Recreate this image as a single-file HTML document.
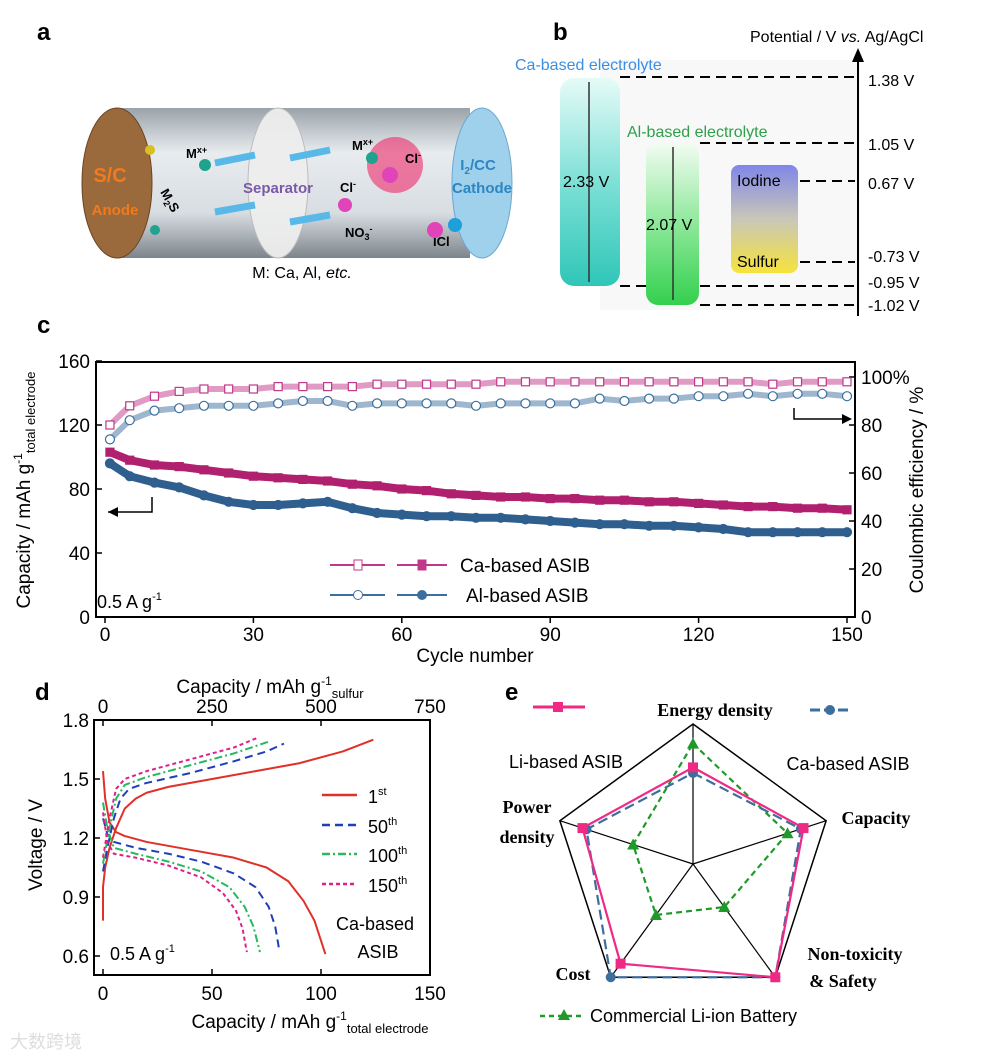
<!DOCTYPE html>
<html><head><meta charset="utf-8"><style>
html,body{margin:0;padding:0;background:#fff;}
svg{display:block;font-family:"Liberation Sans","Noto Sans CJK SC",sans-serif;}
.serif{font-family:"Liberation Serif",serif;font-weight:bold;}
</style></head><body>
<svg id="fig" width="993" height="1057" viewBox="0 0 993 1057" xmlns="http://www.w3.org/2000/svg">
<defs>
<linearGradient id="tube" x1="0" y1="0" x2="0" y2="1"><stop offset="0" stop-color="#9aa3aa"/><stop offset="0.3" stop-color="#e8ecef"/><stop offset="0.7" stop-color="#d8dde2"/><stop offset="1" stop-color="#7d858c"/></linearGradient>
<linearGradient id="caG" x1="0" y1="0" x2="0" y2="1"><stop offset="0" stop-color="#e6fbf8"/><stop offset="0.5" stop-color="#7ee0d6"/><stop offset="1" stop-color="#2fc6b8"/></linearGradient>
<linearGradient id="alG" x1="0" y1="0" x2="0" y2="1"><stop offset="0" stop-color="#f2fcf2"/><stop offset="0.5" stop-color="#8de89a"/><stop offset="1" stop-color="#34d04e"/></linearGradient>
<linearGradient id="isG" x1="0" y1="0" x2="0" y2="1"><stop offset="0" stop-color="#7f86e8"/><stop offset="0.5" stop-color="#c9c7b8"/><stop offset="1" stop-color="#f6e23c"/></linearGradient>
</defs>

<!-- Panel labels -->
<text x="37" y="40" font-size="24" font-weight="bold">a</text>
<text x="553" y="40" font-size="24" font-weight="bold">b</text>
<text x="37" y="333" font-size="24" font-weight="bold">c</text>
<text x="35" y="700" font-size="24" font-weight="bold">d</text>
<text x="505" y="700" font-size="24" font-weight="bold">e</text>

<!-- Panel a schematic -->
<g>
<path d="M115 108 L470 108 L470 258 L115 258 Z" fill="url(#tube)"/>
<ellipse cx="482" cy="183" rx="30" ry="75" fill="#9fd0ec" stroke="#6aa9cf"/>
<ellipse cx="278" cy="183" rx="30" ry="75" fill="#eeeeee" stroke="#bbb" opacity="0.95"/>
<ellipse cx="117" cy="183" rx="35" ry="75" fill="#9a6a3c" stroke="#6b4422"/>
<circle cx="395" cy="165" r="28" fill="#ee2a6a" opacity="0.6"/>
<text x="110" y="182" font-size="20" font-weight="bold" fill="#f07a1e" text-anchor="middle">S/C</text>
<text x="115" y="215" font-size="15" font-weight="bold" fill="#f07a1e" text-anchor="middle">Anode</text>
<text x="278" y="193" font-size="15" font-weight="bold" fill="#7a5aa8" text-anchor="middle">Separator</text>
<text x="478" y="170" font-size="15" font-weight="bold" fill="#2c86c4" text-anchor="middle">I<tspan font-size="10" dy="4">2</tspan><tspan dy="-4">/CC</tspan></text>
<text x="482" y="193" font-size="15" font-weight="bold" fill="#2c86c4" text-anchor="middle">Cathode</text>
<text x="186" y="158" font-size="13" font-weight="bold">M<tspan font-size="9" dy="-5">x+</tspan></text>
<text x="352" y="150" font-size="13" font-weight="bold">M<tspan font-size="9" dy="-5">x+</tspan></text>
<text x="160" y="192" font-size="13" font-weight="bold" transform="rotate(60 160 192)">M<tspan font-size="9" dy="3">2</tspan><tspan dy="-3">S</tspan></text>
<text x="340" y="192" font-size="13" font-weight="bold">Cl<tspan font-size="9" dy="-5">-</tspan></text>
<text x="405" y="163" font-size="13" font-weight="bold">Cl<tspan font-size="9" dy="-5">-</tspan></text>
<text x="345" y="237" font-size="13" font-weight="bold">NO<tspan font-size="9" dy="3">3</tspan><tspan font-size="9" dy="-8">-</tspan></text>
<text x="433" y="246" font-size="13" font-weight="bold">ICl</text>
<path d="M215 163 L255 155 M290 158 L330 150 M215 212 L255 205 M290 222 L330 215" stroke="#58b8e8" stroke-width="7"/>
<circle cx="205" cy="165" r="6" fill="#1fa38e"/><circle cx="372" cy="158" r="6" fill="#1fa38e"/>
<circle cx="390" cy="175" r="8" fill="#e044b8"/><circle cx="345" cy="205" r="7" fill="#e044b8"/>
<circle cx="435" cy="230" r="8" fill="#e044b8"/><circle cx="455" cy="225" r="7" fill="#1ca0dc"/>
<circle cx="150" cy="150" r="5" fill="#d8c020"/><circle cx="155" cy="230" r="5" fill="#1fa38e"/>
<text x="302" y="278" font-size="16" text-anchor="middle">M: Ca, Al, <tspan font-style="italic">etc.</tspan></text>
</g>

<!-- Panel b -->
<g>
<rect x="600" y="60" width="260" height="250" fill="#f2f2f2" opacity="0.5"/>
<line x1="858" y1="316" x2="858" y2="55" stroke="#000" stroke-width="2"/>
<path d="M852 62 L858 48 L864 62 Z" fill="#000"/>
<text x="750" y="42" font-size="16">Potential / V <tspan font-style="italic">vs.</tspan> Ag/AgCl</text>
<g stroke="#000" stroke-width="2" stroke-dasharray="10,6">
<line x1="620" y1="77" x2="855" y2="77"/><line x1="700" y1="143" x2="855" y2="143"/>
<line x1="800" y1="181" x2="855" y2="181"/><line x1="800" y1="262" x2="855" y2="262"/>
<line x1="620" y1="286" x2="855" y2="286"/><line x1="700" y1="305" x2="855" y2="305"/>
</g>
<g font-size="16">
<text x="868" y="86">1.38 V</text><text x="868" y="150">1.05 V</text><text x="868" y="189">0.67 V</text>
<text x="868" y="262">-0.73 V</text><text x="868" y="288">-0.95 V</text><text x="868" y="311">-1.02 V</text>
</g>
<rect x="560" y="78" width="60" height="208" rx="14" fill="url(#caG)"/>
<rect x="646" y="143" width="53" height="162" rx="12" fill="url(#alG)"/>
<rect x="731" y="165" width="67" height="108" rx="8" fill="url(#isG)"/>
<line x1="589" y1="82" x2="589" y2="282" stroke="#333" stroke-width="1.5"/>
<line x1="673" y1="147" x2="673" y2="300" stroke="#333" stroke-width="1.5"/>
<text x="515" y="70" font-size="16" fill="#3c8ee0">Ca-based electrolyte</text>
<text x="627" y="137" font-size="16" fill="#2ea04a">Al-based electrolyte</text>
<text x="563" y="187" font-size="16">2.33 V</text>
<text x="646" y="230" font-size="16">2.07 V</text>
<text x="737" y="186" font-size="16">Iodine</text>
<text x="737" y="267" font-size="16">Sulfur</text>
</g>

<g id="chartC"></g>
<g id="chartD"></g>
<g id="chartE"></g>
<text x="10" y="1048" font-size="18" fill="#ddd">大数跨境</text>
</svg>
<script>
// ---------- Panel c data ----------
const cCycles = [1,5,10,15,20,25,30,35,40,45,50,55,60,65,70,75,80,85,90,95,100,105,110,115,120,125,130,135,140,145,150];
const caCapacity = [103,98,95,94,92,90,88,87,86,85,83,82,80,79,77,76,75,75,74,74,73,73,72,72,71,70,69,69,68,68,67];
const alCapacity = [96,88,84,81,76,72,70,70,71,72,68,65,64,63,63,62,62,61,60,59,58,58,57,57,56,55,53,53,53,53,53];
const caCE = [80,88,92,94,95,95,95,96,96,96,96,97,97,97,97,97,98,98,98,98,98,98,98,98,98,98,98,97,98,98,98];
const alCE = [74,82,86,87,88,88,88,89,90,90,88,89,89,89,89,88,89,89,89,89,91,90,91,91,92,92,93,92,93,93,92];
const cLeftTicks = [0,40,80,120,160];
const cRightTicks = [0,20,40,60,80,100];
const cXTicks = [0,30,60,90,120,150];

// ---------- Panel d data ----------
const dYTicks = [0.6,0.9,1.2,1.5,1.8];
const dXTicks = [0,50,100,150];
const dTopTicks = [0,250,500,750];
const c1Charge = [[0,0.78],[0,0.95],[1,1.05],[3,1.15],[6,1.25],[10,1.35],[15,1.40],[20,1.43],[30,1.46],[50,1.50],[70,1.54],[90,1.58],[110,1.64],[124,1.70]];
const c1Dis = [[0,1.54],[1,1.40],[3,1.28],[6,1.23],[10,1.21],[20,1.18],[40,1.14],[60,1.10],[75,1.05],[85,0.98],[92,0.88],[97,0.78],[102,0.61]];
const c50Charge = [[0,1.03],[2,1.15],[5,1.30],[8,1.40],[12,1.45],[20,1.48],[40,1.53],[60,1.59],[75,1.64],[83,1.68]];
const c50Dis = [[0,1.30],[2,1.22],[5,1.18],[15,1.15],[30,1.12],[45,1.08],[60,1.02],[70,0.95],[76,0.85],[79,0.75],[81,0.62]];
const c100Charge = [[0,1.07],[3,1.25],[6,1.40],[10,1.47],[20,1.51],[40,1.57],[60,1.63],[76,1.69]];
const c100Dis = [[0,1.38],[2,1.25],[5,1.15],[15,1.12],[30,1.08],[45,1.03],[58,0.95],[65,0.85],[69,0.75],[72,0.62]];
const c150Charge = [[0,1.10],[3,1.30],[6,1.45],[10,1.50],[20,1.54],[40,1.60],[60,1.66],[71,1.71]];
const c150Dis = [[0,1.33],[2,1.18],[5,1.12],[15,1.10],[30,1.06],[45,1.00],[55,0.92],[61,0.83],[64,0.74],[66,0.62]];

// ---------- Panel e data ----------
const radarAxes = ["Energy density","Capacity","Non-toxicity","Cost","Power density"];
const liASIB = [0.69,0.83,1.0,0.88,0.83];
const caASIB = [0.65,0.81,1.0,1.0,0.80];
const commercialLi = [0.86,0.71,0.38,0.45,0.45];

const NS = "http://www.w3.org/2000/svg";
function mk(parent, tag, attrs, text){const e=document.createElementNS(NS,tag);for(const k in attrs)e.setAttribute(k,attrs[k]);if(text!==undefined)e.textContent=text;parent.appendChild(e);return e;}

// ===== Chart C =====
(function(){
const g=document.getElementById('chartC');
const L=96,R=855,T=362,B=617;
const xS=v=>105+(v/150)*742;
const yL=v=>B-(v/160)*(B-361);
const yR=v=>B-(v/100)*240;
const frame=mk(g,'rect',{x:L,y:T,width:R-L,height:B-T,fill:'none',stroke:'#000','stroke-width':2});


cLeftTicks.forEach(v=>{const t=mk(g,'text',{x:L-6,y:yL(v)+7,'font-size':19,'text-anchor':'end'},String(v));


mk(g,'line',{x1:L,x2:L+6,y1:yL(v),y2:yL(v),stroke:'#000','stroke-width':1.5});});
cRightTicks.forEach(v=>{const t=mk(g,'text',{x:R+6,y:yR(v)+7,'font-size':19},String(v)+(v===100?'%':''));


mk(g,'line',{x1:R,x2:R-6,y1:yR(v),y2:yR(v),stroke:'#000','stroke-width':1.5});});
cXTicks.forEach(v=>{const t=mk(g,'text',{x:xS(v),y:B+24,'font-size':19,'text-anchor':'middle'},String(v));


mk(g,'line',{x1:xS(v),x2:xS(v),y1:B,y2:B+6,stroke:'#000','stroke-width':1.5});});
const xt=mk(g,'text',{x:475,y:662,'font-size':19,'text-anchor':'middle'},'Cycle number');


const yt=mk(g,'text',{x:0,y:0,'font-size':19,'text-anchor':'middle',transform:'translate(30,490) rotate(-90)'});
yt.innerHTML='Capacity / mAh g<tspan font-size="12" dy="-8">-1</tspan><tspan font-size="13" dy="13">total electrode</tspan>';


const yt2=mk(g,'text',{x:0,y:0,'font-size':19,'text-anchor':'middle',transform:'translate(923,490) rotate(-90)'},'Coulombic efficiency / %');


function series(vals,yf,color,shape,fill,name){
 const pts=cCycles.map((c,i)=>xS(c)+','+yf(vals[i])).join(' ');
 const pl=mk(g,'polyline',{points:pts,fill:'none',stroke:color,'stroke-width':fill?8:6,opacity:fill?1:0.5});
 
 
 cCycles.forEach((c,i)=>{const x=xS(c),y=yf(vals[i]);let m;
  if(shape==='sq')m=mk(g,'rect',{x:x-4,y:y-4,width:8,height:8,fill:fill?color:'#fff',stroke:color,'stroke-width':1.2});
  else m=mk(g,'circle',{cx:x,cy:y,r:4.5,fill:fill?color:'#fff',stroke:color,'stroke-width':1.2});
  
  });
}
series(caCE,yR,'#c0388a','sq',false,'ca-ce');
series(alCE,yR,'#3d6f9e','ci',false,'al-ce');
series(caCapacity,yL,'#b0206e','sq',true,'ca-capacity');
series(alCapacity,yL,'#2f5f8e','ci',true,'al-capacity');
// arrows
mk(g,'path',{d:'M152 497 L152 512 L108 512',fill:'none',stroke:'#000','stroke-width':1.5});
mk(g,'path',{d:'M108 512 L118 507 L118 517 Z'});
mk(g,'path',{d:'M794 408 L794 419 L850 419',fill:'none',stroke:'#000','stroke-width':1.5});
mk(g,'path',{d:'M852 419 L842 414 L842 424 Z'});
// legend
const leg=[['Ca-based ASIB','#c0388a','sq',565],['Al-based ASIB','#3d6f9e','ci',595]];
leg.forEach(([lab,col,sh,y])=>{
 mk(g,'line',{x1:330,x2:385,y1:y,y2:y,stroke:col,'stroke-width':2});
 mk(g,'line',{x1:397,x2:447,y1:y,y2:y,stroke:col,'stroke-width':2});
 [[358,false],[422,true]].forEach(([x,f])=>{ if(sh==='sq')mk(g,'rect',{x:x-4,y:y-5,width:8,height:10,fill:f?col:'#fff',stroke:col});else mk(g,'circle',{cx:x,cy:y,r:4.5,fill:f?col:'#fff',stroke:col});});
 const t=mk(g,'text',{x:lab[0]==='C'?460:466,y:y+7,'font-size':19},lab);
 
 
});
const rt=mk(g,'text',{x:97,y:608,'font-size':18});
rt.innerHTML='0.5 A g<tspan font-size="11" dy="-8">-1</tspan>';


})();

// ===== Chart D =====
(function(){
const g=document.getElementById('chartD');
const L=94,R=430,T=720,B=975;
const xS=v=>103+(v/150)*327;
const xTop=v=>103+(v/750)*327;
const yS=v=>956-(v-0.6)/1.2*236;
const fr=mk(g,'rect',{x:L,y:T,width:R-L,height:B-T,fill:'none',stroke:'#000','stroke-width':2});


dYTicks.forEach(v=>{const t=mk(g,'text',{x:L-5,y:yS(v)+7,'font-size':19,'text-anchor':'end'},v.toFixed(1));


mk(g,'line',{x1:L,x2:L+6,y1:yS(v),y2:yS(v),stroke:'#000','stroke-width':1.5});});
dXTicks.forEach(v=>{const t=mk(g,'text',{x:xS(v),y:B+25,'font-size':19,'text-anchor':'middle'},String(v));


mk(g,'line',{x1:xS(v),x2:xS(v),y1:B,y2:B-6,stroke:'#000','stroke-width':1.5});});
dTopTicks.forEach(v=>{const t=mk(g,'text',{x:xTop(v),y:T-7,'font-size':19,'text-anchor':'middle'},String(v));


mk(g,'line',{x1:xTop(v),x2:xTop(v),y1:T,y2:T+6,stroke:'#000','stroke-width':1.5});});
const bt=mk(g,'text',{x:310,y:1028,'font-size':19,'text-anchor':'middle'});
bt.innerHTML='Capacity / mAh g<tspan font-size="12" dy="-8">-1</tspan><tspan font-size="13" dy="13">total electrode</tspan>';


const tt=mk(g,'text',{x:270,y:693,'font-size':19,'text-anchor':'middle'});
tt.innerHTML='Capacity / mAh g<tspan font-size="12" dy="-8">-1</tspan><tspan font-size="13" dy="13">sulfur</tspan>';


const yt=mk(g,'text',{x:0,y:0,'font-size':19,'text-anchor':'middle',transform:'translate(42,845) rotate(-90)'},'Voltage / V');


const sets=[[c1Charge,c1Dis,'#e0302a','none','1st'],[c50Charge,c50Dis,'#1f3fb8','8,5','50th'],[c100Charge,c100Dis,'#28b860','8,3,2,3','100th'],[c150Charge,c150Dis,'#e0208a','4,3','150th']];
sets.forEach(([ch,dis,col,da,nm])=>{[ch,dis].forEach((arr,k)=>{
 const p=mk(g,'polyline',{points:arr.map(([x,y])=>xS(x)+','+yS(y)).join(' '),fill:'none',stroke:col,'stroke-width':2,'stroke-dasharray':da,'stroke-linejoin':'round'});
 
 });});
sets.forEach(([a,b,col,da,nm],i)=>{const y=[795,825,854,884][i];
 mk(g,'line',{x1:322,x2:357,y1:y,y2:y,stroke:col,'stroke-width':2.5,'stroke-dasharray':da});
 const t=mk(g,'text',{x:368,y:y+8,'font-size':18});
 t.innerHTML=nm.replace(/(st|th)$/,'')+'<tspan font-size="11" dy="-8">'+nm.match(/(st|th)$/)[0]+'</tspan>';
 
 });
const l1=mk(g,'text',{x:375,y:930,'font-size':18,'text-anchor':'middle'},'Ca-based');


const l2=mk(g,'text',{x:378,y:958,'font-size':18,'text-anchor':'middle'},'ASIB');


const rt=mk(g,'text',{x:110,y:960,'font-size':18});
rt.innerHTML='0.5 A g<tspan font-size="11" dy="-8">-1</tspan>';


})();

// ===== Chart E =====
(function(){
const g=document.getElementById('chartE');
const cx=693,cy=864,Rr=140;
const ang=i=>(-90+72*i)*Math.PI/180;
const pt=(i,f)=>[cx+Rr*f*Math.cos(ang(i)),cy+Rr*f*Math.sin(ang(i))];
const outer=radarAxes.map((a,i)=>pt(i,1).join(',')).join(' ');
const pg=mk(g,'polygon',{points:outer,fill:'none',stroke:'#000','stroke-width':1.5});


radarAxes.forEach((a,i)=>{const p=pt(i,1);mk(g,'line',{x1:cx,y1:cy,x2:p[0],y2:p[1],stroke:'#000','stroke-width':1.2});});
function poly(vals,col,da,shape,name){
 const pts=vals.map((v,i)=>pt(i,v));
 const p=mk(g,'polygon',{points:pts.map(q=>q.join(',')).join(' '),fill:'none',stroke:col,'stroke-width':2.2,'stroke-dasharray':da});
 
 
 pts.forEach(([x,y])=>{let m;
  if(shape==='sq')m=mk(g,'rect',{x:x-5,y:y-5,width:10,height:10,fill:col});
  else if(shape==='ci')m=mk(g,'circle',{cx:x,cy:y,r:5,fill:col});
  else m=mk(g,'path',{d:`M${x} ${y-6} L${x+6} ${y+5} L${x-6} ${y+5} Z`,fill:col});
  
  });
}
poly(commercialLi,'#1f9a2a','6,4','tri','commercial-li');
poly(caASIB,'#3c6e9e','10,5','ci','ca-asib');
poly(liASIB,'#ee2a84','none','sq','li-asib');
const labs=[['Energy density',715,716,'middle'],['Capacity',876,824,'middle'],['Non-toxicity',855,960,'middle'],['& Safety',843,987,'middle'],['Cost',573,980,'middle'],['Power',527,813,'middle'],['density',527,843,'middle']];
labs.forEach(([t,x,y,an])=>{const e=mk(g,'text',{x:x,y:y,'font-size':18,'text-anchor':an,class:'serif'},t);
 
 });
// legends
mk(g,'line',{x1:533,x2:585,y1:707,y2:707,stroke:'#ee2a84','stroke-width':3});
mk(g,'rect',{x:553,y:702,width:10,height:10,fill:'#ee2a84'});
const t1=mk(g,'text',{x:566,y:768,'font-size':18,'text-anchor':'middle'},'Li-based ASIB');


mk(g,'line',{x1:810,x2:848,y1:710,y2:710,stroke:'#3c6e9e','stroke-width':3,'stroke-dasharray':'10,4'});
mk(g,'circle',{cx:830,cy:710,r:5,fill:'#3c6e9e'});
const t2=mk(g,'text',{x:848,y:770,'font-size':18,'text-anchor':'middle'},'Ca-based ASIB');


mk(g,'line',{x1:540,x2:585,y1:1016,y2:1016,stroke:'#1f9a2a','stroke-width':2.5,'stroke-dasharray':'5,4'});
mk(g,'path',{d:'M564 1009 L570 1020 L558 1020 Z',fill:'#1f9a2a'});
const t3=mk(g,'text',{x:590,y:1022,'font-size':18},'Commercial Li-ion Battery');


})();
</script>
</body></html>
